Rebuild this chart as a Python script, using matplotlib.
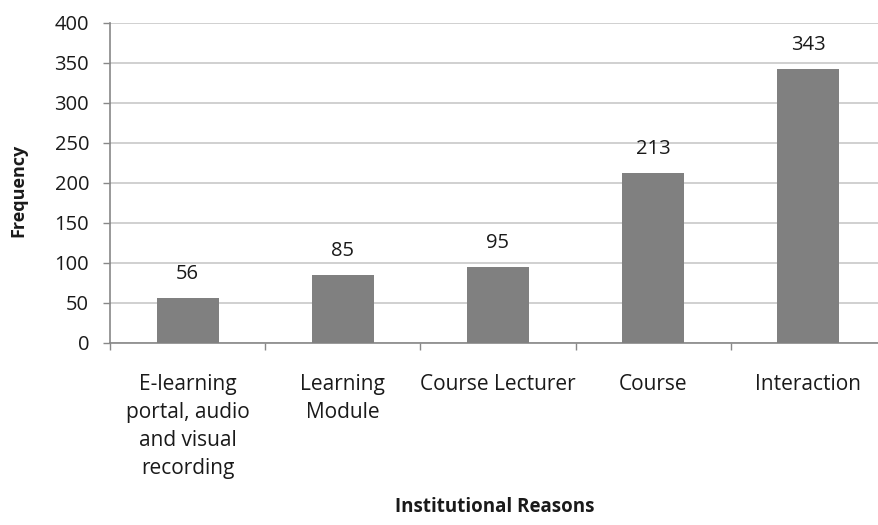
import numpy as np
import matplotlib.pyplot as plt

# Дані
categories = ['E-learning\nportal, audio\nand visual\nrecording',
              'Learning\nModule',
              'Course Lecturer',
              'Course',
              'Interaction']
frequency = [56, 85, 95, 213, 343]
y_ticks = [0, 50, 100, 150, 200, 250, 300, 350, 400]

plt.rcParams['font.family'] = ['Open Sans', 'DejaVu Sans']
text_color = '#1a1a1a'

fig = plt.figure(figsize=(8.79, 5.25), dpi=100)
ax = fig.add_axes([110 / 879, 182 / 525, 776 / 879, 320 / 525])

x = np.arange(len(categories))
bars = ax.bar(x, frequency, width=0.4, color='#808080', zorder=3)

# Підписи значень над стовпцями
for b, v in zip(bars, frequency):
    ax.annotate(str(v), (b.get_x() + b.get_width() / 2, v),
                xytext=(0, 10), textcoords='offset points',
                ha='center', va='bottom', fontsize=14.5, color=text_color)

ax.set_xlim(-0.5, len(categories) - 0.5)
ax.set_ylim(0, 400)
ax.set_yticks(y_ticks)
ax.yaxis.grid(True, color='#c8c8c8', linewidth=1.2, zorder=0)

ax.set_xticks(x)
ax.set_xticklabels(categories, fontsize=15, color=text_color, linespacing=1.45)
ax.set_xticks(np.arange(len(categories) + 1) - 0.5, minor=True)
ax.tick_params(axis='x', which='major', length=0, pad=22)
ax.tick_params(axis='x', which='minor', length=5, width=1, color='#888888')
ax.tick_params(axis='y', length=5, width=1, color='#888888', pad=10,
               labelsize=14.5, labelcolor=text_color)

for side in ['top', 'right']:
    ax.spines[side].set_visible(False)
for side in ['left', 'bottom']:
    ax.spines[side].set_color('#888888')
    ax.spines[side].set_linewidth(1.2)

# Назви осей
fig.text(18 / 879, 1 - 190 / 525, 'Frequency', fontsize=13, rotation=90,
         fontweight='bold', color=text_color, ha='center', va='center')
fig.text(495 / 879, 1 - 507 / 525, 'Institutional Reasons', fontsize=13.5,
         fontweight='bold', color=text_color, ha='center', va='center')

plt.savefig('out.png', dpi=100)
